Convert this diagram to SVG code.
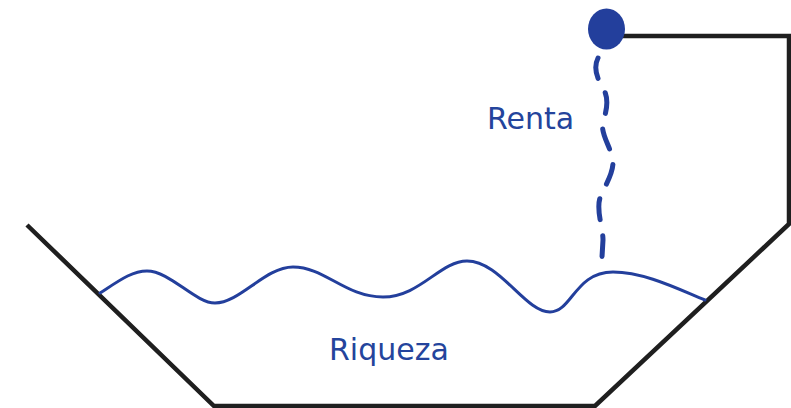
<svg xmlns="http://www.w3.org/2000/svg" width="791" height="408" viewBox="0 0 791 408">
<style>
.frame{fill:none;stroke:#1f1f1f;stroke-width:4.5;stroke-linejoin:miter}
.wave{fill:none;stroke:#233f9c;stroke-width:3;stroke-linecap:round}
.dash{fill:none;stroke:#233f9c;stroke-width:5;stroke-linecap:round;stroke-dasharray:21 16}
.lbl{font-family:"DejaVu Sans",Verdana,sans-serif;font-size:30px;fill:#24449c}
</style>
<rect width="791" height="408" fill="#ffffff"/>
<g id="container">
<polyline class="frame" points="27,225 214,406 595,406 789,224 789,36 620,36"/>
</g>
<g id="riqueza">
<path class="wave" d="M100,293 C120,280 132,271 147,271 C170,271 195,303 215,303 C240,303 265,267 293,267 C325,267 345,297 383,297 C420,297 440,261 467,261 C500,261 525,312 550,312 C572,312 575,272 613,272 C645,272 680,290 705,300"/>
<text class="lbl" x="329" y="360">Riqueza</text>
</g>
<g id="source">
<ellipse cx="606.5" cy="29" rx="18.5" ry="20.5" fill="#233f9c"/>
</g>
<g id="connectors">
<path class="dash" d="M598,58 C593,68 597,78 603,88 C610,100 606,112 603,122 C600,135 612,148 613,162 C613,175 605,185 600,198 C596,210 603,228 603,240 L602,257"/>
</g>
<g id="renta">
<text class="lbl" x="487" y="129">Renta</text>
</g>
</svg>
